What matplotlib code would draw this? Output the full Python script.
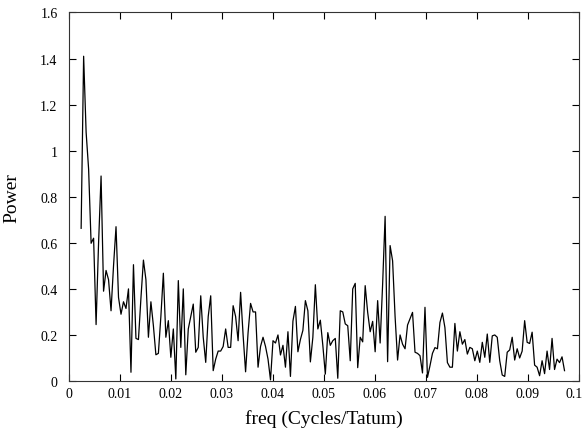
import numpy as np
import matplotlib
matplotlib.use("Agg")
import matplotlib.pyplot as plt
from matplotlib import rc
from matplotlib.ticker import FuncFormatter
from matplotlib.transforms import ScaledTranslation

rc('font', **{'family': 'serif', 'serif': ['Liberation Serif', 'DejaVu Serif'], 'size': 10})

# power spectrum, one value per frequency bin (bins 5..199, bin width 1/2048 cycles/tatum)
first_bin = 5
bin_width = 1.0 / 2048
power = [
    0.663, 1.41, 1.08, 0.92, 0.598, 0.62, 0.245, 0.60, 0.89, 0.39,
    0.48, 0.44, 0.305, 0.50, 0.67, 0.363, 0.29, 0.344, 0.315, 0.40,
    0.038, 0.505, 0.185, 0.18, 0.36, 0.525, 0.44, 0.19, 0.344, 0.24,
    0.114, 0.12, 0.28, 0.468, 0.19, 0.262, 0.103, 0.226, 0.009, 0.436,
    0.146, 0.40, 0.027, 0.226, 0.28, 0.334, 0.125, 0.146, 0.37, 0.19,
    0.081, 0.28, 0.37, 0.045, 0.095, 0.13, 0.13, 0.15, 0.226, 0.146,
    0.146, 0.327, 0.28, 0.175, 0.385, 0.2, 0.04, 0.21, 0.337, 0.30,
    0.30, 0.06, 0.15, 0.19, 0.15, 0.095, 0.005, 0.175, 0.165, 0.20,
    0.113, 0.155, 0.06, 0.214, 0.02, 0.26, 0.324, 0.127, 0.18, 0.22,
    0.349, 0.305, 0.083, 0.19, 0.418, 0.226, 0.264, 0.155, 0.03, 0.21,
    0.155, 0.175, 0.185, 0.012, 0.305, 0.30, 0.248, 0.24, 0.088, 0.40,
    0.424, 0.058, 0.19, 0.17, 0.414, 0.298, 0.214, 0.259, 0.127, 0.349,
    0.165, 0.42, 0.715, 0.084, 0.588, 0.522, 0.28, 0.091, 0.20, 0.16,
    0.14, 0.243, 0.27, 0.298, 0.125, 0.12, 0.11, 0.035, 0.32, 0.016,
    0.066, 0.12, 0.145, 0.14, 0.254, 0.295, 0.232, 0.08, 0.06, 0.06,
    0.25, 0.13, 0.214, 0.16, 0.18, 0.117, 0.146, 0.14, 0.088, 0.13,
    0.081, 0.168, 0.103, 0.204, 0.081, 0.196, 0.2, 0.19, 0.088, 0.026,
    0.020, 0.125, 0.135, 0.19, 0.091, 0.14, 0.10, 0.13, 0.262, 0.168,
    0.163, 0.212, 0.069, 0.06, 0.023, 0.088, 0.032, 0.13, 0.05, 0.185,
    0.05, 0.095, 0.08, 0.105, 0.045,
]
freq = (first_bin + np.arange(len(power))) * bin_width

xticks = [0, 0.01, 0.02, 0.03, 0.04, 0.05, 0.06, 0.07, 0.08, 0.09, 0.1]
yticks = [0, 0.2, 0.4, 0.6, 0.8, 1.0, 1.2, 1.4, 1.6]

fig = plt.figure(figsize=(5.86, 4.35), dpi=100)
ax = fig.add_axes([0.1172, 0.1218, 0.988 - 0.1172, 0.969 - 0.1218])

ax.plot(freq, power, color='black', linewidth=0.9)

ax.set_xlim(0, 0.1)
ax.set_ylim(0, 1.6)
ax.set_xticks(xticks)
ax.set_yticks(yticks)
fmt = FuncFormatter(lambda v, p: '%g' % round(v, 4))
ax.xaxis.set_major_formatter(fmt)
ax.yaxis.set_major_formatter(fmt)
ax.tick_params(direction='in', length=5, width=0.8, top=True, right=True)
ax.tick_params(axis='x', pad=4)
ax.tick_params(axis='y', pad=8)
for s in ax.spines.values():
    s.set_linewidth(0.8)
    s.set_color('#333333')

# last x label sits at the very edge of the figure, nudge it in a bit
last = ax.get_xticklabels()[-1]
last.set_transform(last.get_transform() + ScaledTranslation(-5 / 100, 0, fig.dpi_scale_trans))

ax.set_xlabel('freq (Cycles/Tatum)', fontsize=14, labelpad=7)
ax.set_ylabel('Power', fontsize=14, labelpad=14)

fig.savefig('out.png', dpi=100)
